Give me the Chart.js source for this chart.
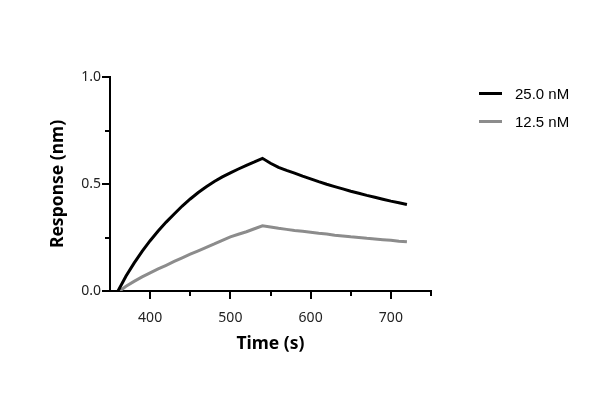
<!DOCTYPE html>
<html>
<head>
<meta charset="utf-8">
<script src="https://cdn.jsdelivr.net/npm/chart.js@4/dist/chart.umd.min.js"></script>
<style>
  html, body { margin: 0; padding: 0; background: #fff; }
  #wrap { position: relative; width: 610px; height: 399px; }
  #legend { position: absolute; left: 479px; top: 79px; font-family: "Liberation Sans", Arial, sans-serif; font-size: 15px; color: #000; }
  #legend .row { height: 28.5px; display: flex; align-items: center; }
  #legend .sw { width: 23px; height: 3px; margin-right: 13px; }
</style>
</head>
<body>
<div id="wrap">
  <canvas id="chart" width="610" height="399"></canvas>
  <div id="legend"></div>
</div>
<script>
// association (to 540 s) then dissociation
var timesHigh = [360, 370, 380, 390, 400, 410, 420, 430, 440, 450, 460, 470, 480, 490, 500, 510, 520, 530, 540,
                 550, 560, 570, 580, 590, 600, 610, 620, 630, 640, 650, 660, 670, 680, 690, 700, 710, 720];
var resp25 = [0, 0.07, 0.13, 0.185, 0.235, 0.28, 0.322, 0.36, 0.397, 0.43, 0.46, 0.487, 0.512, 0.533, 0.552, 0.57, 0.587, 0.603, 0.62,
              0.597, 0.578, 0.564, 0.551, 0.537, 0.524, 0.511, 0.499, 0.488, 0.477, 0.466, 0.457, 0.447, 0.438, 0.429, 0.42, 0.412, 0.404];
var timesLow = [362, 370, 380, 390, 400, 410, 420, 430, 440, 450, 460, 470, 480, 490, 500, 510, 520, 530, 540,
                550, 560, 570, 580, 590, 600, 610, 620, 630, 640, 650, 660, 670, 680, 690, 700, 710, 720];
var resp12 = [0, 0.022, 0.045, 0.066, 0.085, 0.103, 0.12, 0.138, 0.155, 0.172, 0.188, 0.204, 0.22, 0.237, 0.253, 0.265, 0.277, 0.291, 0.305,
              0.299, 0.293, 0.288, 0.283, 0.279, 0.275, 0.27, 0.266, 0.261, 0.257, 0.253, 0.25, 0.246, 0.243, 0.24, 0.237, 0.233, 0.23];
var seriesNames = ['25.0 nM', '12.5 nM'];
var seriesColors = ['#000000', '#8c8c8c'];
var xTicks = [400, 450, 500, 550, 600, 650, 700, 750];
var yTicks = [0, 0.25, 0.5, 0.75, 1.0];

function pts(xs, ys) {
  var out = [];
  for (var i = 0; i < xs.length; i++) out.push({x: xs[i], y: ys[i]});
  return out;
}

// tick marks drawn by hand so major/minor can have different lengths
var tickMarks = {
  id: 'tickMarks',
  afterDraw: function(chart) {
    var ctx = chart.ctx, xs = chart.scales.x, ys = chart.scales.y;
    var bottom = chart.chartArea.bottom, left = chart.chartArea.left;
    ctx.save();
    ctx.strokeStyle = '#000';
    ctx.lineWidth = 2;
    ctx.beginPath();
    xTicks.forEach(function(v) {
      var px = Math.round(xs.getPixelForValue(v));
      var len = (v % 100 === 0) ? 8 : 5;
      ctx.moveTo(px, bottom);
      ctx.lineTo(px, bottom + len);
    });
    yTicks.forEach(function(v) {
      var py = Math.round(ys.getPixelForValue(v));
      var len = (Math.abs(v * 2 - Math.round(v * 2)) < 1e-6) ? 8 : 5;
      ctx.moveTo(left, py);
      ctx.lineTo(left - len, py);
    });
    ctx.stroke();
    ctx.restore();
  }
};

var ctx = document.getElementById('chart').getContext('2d');
var chart = new Chart(ctx, {
  type: 'line',
  data: {
    datasets: [
      { label: seriesNames[0], data: pts(timesHigh, resp25), borderColor: seriesColors[0], borderWidth: 3, pointRadius: 0, tension: 0, fill: false },
      { label: seriesNames[1], data: pts(timesLow, resp12), borderColor: seriesColors[1], borderWidth: 3, pointRadius: 0, tension: 0, fill: false }
    ]
  },
  options: {
    responsive: false,
    animation: false,
    layout: { padding: { left: 0, top: 77, right: 179, bottom: 44 } },
    plugins: { legend: { display: false }, tooltip: { enabled: false } },
    scales: {
      x: {
        type: 'linear',
        min: 350, max: 750,
        grid: { display: false, drawTicks: false },
        border: { display: true, color: '#000', width: 2 },
        afterFit: function(s) { s.height = 64; },
        afterBuildTicks: function(s) { s.ticks = [400, 500, 600, 700].map(function(v) { return {value: v}; }); },
        ticks: { padding: 19, color: '#222', font: { family: '"Noto Sans", "Open Sans", sans-serif', size: 14 }, maxRotation: 0 },
        title: { display: true, text: 'Time (s)', color: '#000', padding: { top: 0, bottom: 0 }, font: { family: '"Noto Sans", "Open Sans", sans-serif', size: 17.5, weight: 'bold' } }
      },
      y: {
        min: 0, max: 1,
        grid: { display: false, drawTicks: false },
        border: { display: true, color: '#000', width: 2 },
        afterFit: function(s) { s.width = 110; },
        afterBuildTicks: function(s) { s.ticks = [0, 0.5, 1].map(function(v) { return {value: v}; }); },
        ticks: { padding: 9, color: '#222', font: { family: '"Noto Sans", "Open Sans", sans-serif', size: 14 }, callback: function(v) { return v.toFixed(1); } },
        title: { display: true, text: 'Response (nm)', color: '#000', padding: { top: 48, bottom: 0 }, font: { family: '"Noto Sans", "Open Sans", sans-serif', size: 17.5, weight: 'bold' } }
      }
    }
  },
  plugins: [tickMarks]
});

var legend = document.getElementById('legend');
seriesNames.forEach(function(name, i) {
  var row = document.createElement('div');
  row.className = 'row';
  var sw = document.createElement('span');
  sw.className = 'sw';
  sw.style.background = seriesColors[i];
  var tx = document.createElement('span');
  tx.textContent = name;
  row.appendChild(sw);
  row.appendChild(tx);
  legend.appendChild(row);
});
</script>
</body>
</html>
